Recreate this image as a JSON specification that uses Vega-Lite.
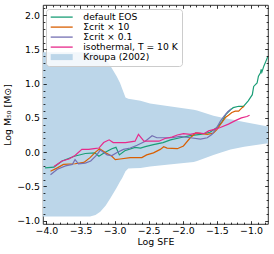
{
  "$schema": "https://vega.github.io/schema/vega-lite/v6.json",
  "width": 225,
  "height": 219,
  "autosize": "none",
  "padding": {"left": 43, "top": 5, "right": 6, "bottom": 30},
  "background": "white",
  "config": {
    "view": {"stroke": "black", "strokeWidth": 0.8},
    "axis": {
      "labelFont": "DejaVu Sans", "titleFont": "DejaVu Sans",
      "labelFontSize": 9.4, "titleFontSize": 9.4, "titleFontWeight": "normal",
      "labelColor": "black", "titleColor": "black",
      "tickColor": "black", "tickWidth": 0.8,
      "domain": false, "grid": false,
      "labelOverlap": false, "labelFlush": false, "labelBound": false
    }
  },
  "datasets": {
    "band": [
      {"x": -4.05, "lo": -0.94, "hi": 1.46},
      {"x": -3.36, "lo": -0.94, "hi": 1.46},
      {"x": -3.28, "lo": -0.92, "hi": 1.455},
      {"x": -3.21, "lo": -0.87, "hi": 1.43},
      {"x": -3.13, "lo": -0.78, "hi": 1.36},
      {"x": -3.06, "lo": -0.67, "hi": 1.26},
      {"x": -2.97, "lo": -0.52, "hi": 1.11},
      {"x": -2.92, "lo": -0.43, "hi": 1.01},
      {"x": -2.89, "lo": -0.38, "hi": 0.93},
      {"x": -2.84, "lo": -0.28, "hi": 0.80},
      {"x": -2.80, "lo": -0.24, "hi": 0.78},
      {"x": -2.73, "lo": -0.235, "hi": 0.77},
      {"x": -2.62, "lo": -0.23, "hi": 0.75},
      {"x": -2.48, "lo": -0.21, "hi": 0.71},
      {"x": -2.20, "lo": -0.18, "hi": 0.67},
      {"x": -1.84, "lo": -0.145, "hi": 0.62},
      {"x": -1.79, "lo": -0.13, "hi": 0.61},
      {"x": -1.55, "lo": -0.04, "hi": 0.53},
      {"x": -1.45, "lo": -0.01, "hi": 0.51},
      {"x": -1.30, "lo": 0.04, "hi": 0.48},
      {"x": -1.10, "lo": 0.08, "hi": 0.44},
      {"x": -0.75, "lo": 0.13, "hi": 0.375}
    ],
    "lines": [
      {"s": "default EOS", "x": -4.02, "y": -0.23},
      {"s": "default EOS", "x": -3.89, "y": -0.22},
      {"s": "default EOS", "x": -3.77, "y": -0.13},
      {"s": "default EOS", "x": -3.59, "y": -0.06},
      {"s": "default EOS", "x": -3.43, "y": -0.02},
      {"s": "default EOS", "x": -3.29, "y": -0.01},
      {"s": "default EOS", "x": -3.23, "y": -0.06},
      {"s": "default EOS", "x": -3.15, "y": -0.01},
      {"s": "default EOS", "x": -3.04, "y": 0.05},
      {"s": "default EOS", "x": -2.98, "y": 0.07},
      {"s": "default EOS", "x": -2.93, "y": -0.04},
      {"s": "default EOS", "x": -2.85, "y": 0.02},
      {"s": "default EOS", "x": -2.70, "y": 0.07},
      {"s": "default EOS", "x": -2.62, "y": 0.06},
      {"s": "default EOS", "x": -2.55, "y": 0.08},
      {"s": "default EOS", "x": -2.43, "y": 0.11},
      {"s": "default EOS", "x": -2.29, "y": 0.14},
      {"s": "default EOS", "x": -2.18, "y": 0.18},
      {"s": "default EOS", "x": -2.04, "y": 0.21},
      {"s": "default EOS", "x": -1.89, "y": 0.24},
      {"s": "default EOS", "x": -1.74, "y": 0.26},
      {"s": "default EOS", "x": -1.60, "y": 0.29},
      {"s": "default EOS", "x": -1.50, "y": 0.36},
      {"s": "default EOS", "x": -1.42, "y": 0.45},
      {"s": "default EOS", "x": -1.37, "y": 0.55},
      {"s": "default EOS", "x": -1.30, "y": 0.62},
      {"s": "default EOS", "x": -1.26, "y": 0.65},
      {"s": "default EOS", "x": -1.18, "y": 0.67},
      {"s": "default EOS", "x": -1.11, "y": 0.67},
      {"s": "default EOS", "x": -1.04, "y": 0.75},
      {"s": "default EOS", "x": -0.98, "y": 0.84},
      {"s": "default EOS", "x": -0.96, "y": 0.96},
      {"s": "default EOS", "x": -0.91, "y": 1.01},
      {"s": "default EOS", "x": -0.89, "y": 1.11},
      {"s": "default EOS", "x": -0.86, "y": 1.16},
      {"s": "default EOS", "x": -0.85, "y": 1.21},
      {"s": "default EOS", "x": -0.84, "y": 1.17},
      {"s": "default EOS", "x": -0.81, "y": 1.26},
      {"s": "default EOS", "x": -0.78, "y": 1.33},
      {"s": "default EOS", "x": -0.76, "y": 1.38},
      {"s": "default EOS", "x": -0.75, "y": 1.40},

      {"s": "Σcrit × 10", "x": -3.94, "y": -0.28},
      {"s": "Σcrit × 10", "x": -3.84, "y": -0.23},
      {"s": "Σcrit × 10", "x": -3.75, "y": -0.18},
      {"s": "Σcrit × 10", "x": -3.58, "y": -0.17},
      {"s": "Σcrit × 10", "x": -3.45, "y": -0.15},
      {"s": "Σcrit × 10", "x": -3.36, "y": -0.08},
      {"s": "Σcrit × 10", "x": -3.28, "y": 0.00},
      {"s": "Σcrit × 10", "x": -3.22, "y": 0.05},
      {"s": "Σcrit × 10", "x": -3.13, "y": -0.01},
      {"s": "Σcrit × 10", "x": -3.04, "y": -0.06},
      {"s": "Σcrit × 10", "x": -2.99, "y": -0.11},
      {"s": "Σcrit × 10", "x": -2.92, "y": -0.10},
      {"s": "Σcrit × 10", "x": -2.77, "y": -0.08},
      {"s": "Σcrit × 10", "x": -2.60, "y": -0.08},
      {"s": "Σcrit × 10", "x": -2.53, "y": -0.04},
      {"s": "Σcrit × 10", "x": -2.43, "y": -0.01},
      {"s": "Σcrit × 10", "x": -2.33, "y": 0.04},
      {"s": "Σcrit × 10", "x": -2.28, "y": 0.08},
      {"s": "Σcrit × 10", "x": -2.23, "y": 0.06},
      {"s": "Σcrit × 10", "x": -2.08, "y": 0.05},
      {"s": "Σcrit × 10", "x": -1.99, "y": 0.09},
      {"s": "Σcrit × 10", "x": -1.89, "y": 0.21},
      {"s": "Σcrit × 10", "x": -1.81, "y": 0.28},
      {"s": "Σcrit × 10", "x": -1.72, "y": 0.27},
      {"s": "Σcrit × 10", "x": -1.64, "y": 0.26},
      {"s": "Σcrit × 10", "x": -1.59, "y": 0.27},
      {"s": "Σcrit × 10", "x": -1.55, "y": 0.28},
      {"s": "Σcrit × 10", "x": -1.50, "y": 0.33},
      {"s": "Σcrit × 10", "x": -1.45, "y": 0.40},
      {"s": "Σcrit × 10", "x": -1.37, "y": 0.51},
      {"s": "Σcrit × 10", "x": -1.33, "y": 0.54},
      {"s": "Σcrit × 10", "x": -1.28, "y": 0.58},
      {"s": "Σcrit × 10", "x": -1.23, "y": 0.60},
      {"s": "Σcrit × 10", "x": -1.18, "y": 0.60},
      {"s": "Σcrit × 10", "x": -1.13, "y": 0.65},
      {"s": "Σcrit × 10", "x": -1.10, "y": 0.67},

      {"s": "Σcrit × 0.1", "x": -3.94, "y": -0.33},
      {"s": "Σcrit × 0.1", "x": -3.84, "y": -0.25},
      {"s": "Σcrit × 0.1", "x": -3.72, "y": -0.20},
      {"s": "Σcrit × 0.1", "x": -3.62, "y": -0.18},
      {"s": "Σcrit × 0.1", "x": -3.58, "y": -0.11},
      {"s": "Σcrit × 0.1", "x": -3.53, "y": -0.17},
      {"s": "Σcrit × 0.1", "x": -3.43, "y": -0.16},
      {"s": "Σcrit × 0.1", "x": -3.35, "y": -0.13},
      {"s": "Σcrit × 0.1", "x": -3.26, "y": -0.04},
      {"s": "Σcrit × 0.1", "x": -3.21, "y": 0.03},
      {"s": "Σcrit × 0.1", "x": -3.11, "y": -0.04},
      {"s": "Σcrit × 0.1", "x": -3.04, "y": -0.05},
      {"s": "Σcrit × 0.1", "x": -2.97, "y": -0.01},
      {"s": "Σcrit × 0.1", "x": -2.87, "y": 0.04},
      {"s": "Σcrit × 0.1", "x": -2.77, "y": 0.06},
      {"s": "Σcrit × 0.1", "x": -2.67, "y": 0.10},
      {"s": "Σcrit × 0.1", "x": -2.55, "y": 0.16},
      {"s": "Σcrit × 0.1", "x": -2.45, "y": 0.24},
      {"s": "Σcrit × 0.1", "x": -2.38, "y": 0.21},
      {"s": "Σcrit × 0.1", "x": -2.28, "y": 0.21},
      {"s": "Σcrit × 0.1", "x": -2.16, "y": 0.21},
      {"s": "Σcrit × 0.1", "x": -2.04, "y": 0.23},
      {"s": "Σcrit × 0.1", "x": -1.89, "y": 0.21},
      {"s": "Σcrit × 0.1", "x": -1.74, "y": 0.19},
      {"s": "Σcrit × 0.1", "x": -1.64, "y": 0.21},
      {"s": "Σcrit × 0.1", "x": -1.57, "y": 0.26},
      {"s": "Σcrit × 0.1", "x": -1.50, "y": 0.36},
      {"s": "Σcrit × 0.1", "x": -1.45, "y": 0.45},
      {"s": "Σcrit × 0.1", "x": -1.40, "y": 0.52},
      {"s": "Σcrit × 0.1", "x": -1.34, "y": 0.59},
      {"s": "Σcrit × 0.1", "x": -1.29, "y": 0.63},

      {"s": "isothermal, T = 10 K", "x": -3.89, "y": -0.21},
      {"s": "isothermal, T = 10 K", "x": -3.77, "y": -0.13},
      {"s": "isothermal, T = 10 K", "x": -3.67, "y": -0.10},
      {"s": "isothermal, T = 10 K", "x": -3.58, "y": -0.05},
      {"s": "isothermal, T = 10 K", "x": -3.48, "y": 0.04},
      {"s": "isothermal, T = 10 K", "x": -3.38, "y": 0.04},
      {"s": "isothermal, T = 10 K", "x": -3.30, "y": 0.05},
      {"s": "isothermal, T = 10 K", "x": -3.23, "y": 0.06},
      {"s": "isothermal, T = 10 K", "x": -3.16, "y": 0.14},
      {"s": "isothermal, T = 10 K", "x": -3.08, "y": 0.18},
      {"s": "isothermal, T = 10 K", "x": -3.02, "y": 0.14},
      {"s": "isothermal, T = 10 K", "x": -2.84, "y": 0.14},
      {"s": "isothermal, T = 10 K", "x": -2.70, "y": 0.16},
      {"s": "isothermal, T = 10 K", "x": -2.65, "y": 0.26},
      {"s": "isothermal, T = 10 K", "x": -2.57, "y": 0.16},
      {"s": "isothermal, T = 10 K", "x": -2.45, "y": 0.16},
      {"s": "isothermal, T = 10 K", "x": -2.35, "y": 0.16},
      {"s": "isothermal, T = 10 K", "x": -2.26, "y": 0.20},
      {"s": "isothermal, T = 10 K", "x": -2.16, "y": 0.22},
      {"s": "isothermal, T = 10 K", "x": -2.08, "y": 0.25},
      {"s": "isothermal, T = 10 K", "x": -1.99, "y": 0.27},
      {"s": "isothermal, T = 10 K", "x": -1.89, "y": 0.26},
      {"s": "isothermal, T = 10 K", "x": -1.79, "y": 0.28},
      {"s": "isothermal, T = 10 K", "x": -1.69, "y": 0.27},
      {"s": "isothermal, T = 10 K", "x": -1.62, "y": 0.31},
      {"s": "isothermal, T = 10 K", "x": -1.55, "y": 0.33},
      {"s": "isothermal, T = 10 K", "x": -1.45, "y": 0.36},
      {"s": "isothermal, T = 10 K", "x": -1.33, "y": 0.41},
      {"s": "isothermal, T = 10 K", "x": -1.23, "y": 0.46},
      {"s": "isothermal, T = 10 K", "x": -1.14, "y": 0.50},
      {"s": "isothermal, T = 10 K", "x": -1.06, "y": 0.52},
      {"s": "isothermal, T = 10 K", "x": -1.02, "y": 0.54}
    ]
  },
  "layer": [
    {
      "data": {"name": "band"},
      "mark": {"type": "area", "color": "#bcd6e9", "opacity": 1, "clip": true},
      "encoding": {
        "x": {
          "field": "x", "type": "quantitative",
          "scale": {"domain": [-4.05, -0.75], "nice": false, "zero": false},
          "axis": {
            "orient": "bottom", "title": "Log SFE", "zindex": 1,
            "values": [-4.0,-3.9,-3.8,-3.7,-3.6,-3.5,-3.4,-3.3,-3.2,-3.1,-3.0,-2.9,-2.8,-2.7,-2.6,-2.5,-2.4,-2.3,-2.2,-2.1,-2.0,-1.9,-1.8,-1.7,-1.6,-1.5,-1.4,-1.3,-1.2,-1.1,-1.0,-0.9,-0.8],
            "format": ".1f",
            "labelExpr": "abs(datum.value*2 - round(datum.value*2)) < 0.01 ? datum.label : ''",
            "tickSize": 0, "labelPadding": 2.5, "titlePadding": 3,
            "encoding": {"ticks": {"y2": {"value": {"expr": "abs(datum.value*2 - round(datum.value*2)) < 0.01 ? -3.3 : -1.9"}}}}
          }
        },
        "y": {
          "field": "lo", "type": "quantitative",
          "scale": {"domain": [-1.05, 2.15], "nice": false, "zero": false},
          "axis": {
            "orient": "left", "title": "Log M₅₀ [M⊙]", "zindex": 1,
            "values": [-1.0,-0.9,-0.8,-0.7,-0.6,-0.5,-0.4,-0.3,-0.2,-0.1,0.0,0.1,0.2,0.3,0.4,0.5,0.6,0.7,0.8,0.9,1.0,1.1,1.2,1.3,1.4,1.5,1.6,1.7,1.8,1.9,2.0,2.1],
            "format": ".1f",
            "labelExpr": "abs(datum.value*2 - round(datum.value*2)) < 0.01 ? datum.label : ''",
            "tickSize": 0, "labelPadding": 3.5, "titlePadding": 4,
            "encoding": {"ticks": {"x2": {"value": {"expr": "abs(datum.value*2 - round(datum.value*2)) < 0.01 ? 3.3 : 1.9"}}}}
          }
        },
        "y2": {"field": "hi"}
      }
    },
    {
      "data": {"name": "lines"},
      "mark": {"type": "line", "strokeWidth": 1.2, "clip": true},
      "encoding": {
        "x": {
          "field": "x", "type": "quantitative",
          "scale": {"domain": [-4.05, -0.75], "nice": false, "zero": false},
          "axis": {
            "orient": "top", "title": null, "labels": false, "zindex": 1,
            "values": [-4.0,-3.9,-3.8,-3.7,-3.6,-3.5,-3.4,-3.3,-3.2,-3.1,-3.0,-2.9,-2.8,-2.7,-2.6,-2.5,-2.4,-2.3,-2.2,-2.1,-2.0,-1.9,-1.8,-1.7,-1.6,-1.5,-1.4,-1.3,-1.2,-1.1,-1.0,-0.9,-0.8],
            "tickSize": 0,
            "encoding": {"ticks": {"y2": {"value": {"expr": "abs(datum.value*2 - round(datum.value*2)) < 0.01 ? 3.3 : 1.9"}}}}
          }
        },
        "y": {
          "field": "y", "type": "quantitative",
          "scale": {"domain": [-1.05, 2.15], "nice": false, "zero": false},
          "axis": {
            "orient": "right", "title": null, "labels": false, "zindex": 1,
            "values": [-1.0,-0.9,-0.8,-0.7,-0.6,-0.5,-0.4,-0.3,-0.2,-0.1,0.0,0.1,0.2,0.3,0.4,0.5,0.6,0.7,0.8,0.9,1.0,1.1,1.2,1.3,1.4,1.5,1.6,1.7,1.8,1.9,2.0,2.1],
            "tickSize": 0,
            "encoding": {"ticks": {"x2": {"value": {"expr": "abs(datum.value*2 - round(datum.value*2)) < 0.01 ? -3.3 : -1.9"}}}}
          }
        },
        "color": {
          "field": "s", "type": "nominal",
          "scale": {
            "domain": ["default EOS", "Σcrit × 10", "Σcrit × 0.1", "isothermal, T = 10 K", "Kroupa (2002)"],
            "range": ["#1b9e77", "#d95f02", "#7570b3", "#e7298a", "#bcd6e9"]
          },
          "legend": {
            "orient": "none", "legendX": 3, "legendY": 4, "direction": "vertical",
            "title": null,
            "symbolType": "M-5.5,0H5.5",
            "symbolSize": 16,
            "symbolStrokeWidth": 1.3,
            "symbolOffset": 7.6,
            "labelOffset": 17,
            "labelFont": "DejaVu Sans", "labelFontSize": 9.2, "labelColor": "black", "labelLimit": 300,
            "rowPadding": 0,
            "padding": 3.5,
            "strokeColor": "#cccccc",
            "fillColor": "rgba(255,255,255,0.8)",
            "cornerRadius": 3,
            "encoding": {
              "symbols": {
                "shape": {"value": {"expr": "datum.value === 'Kroupa (2002)' ? 'M-5.5,-1.5H5.5V1.5H-5.5Z' : 'M-5.5,0H5.5'"}},
                "fill": {"value": {"expr": "datum.value === 'Kroupa (2002)' ? '#bcd6e9' : 'transparent'"}},
                "strokeWidth": {"value": {"expr": "datum.value === 'Kroupa (2002)' ? 0 : 1.3"}}
              }
            }
          }
        }
      }
    }
  ],
  "resolve": {"axis": {"x": "independent", "y": "independent"}}
}
